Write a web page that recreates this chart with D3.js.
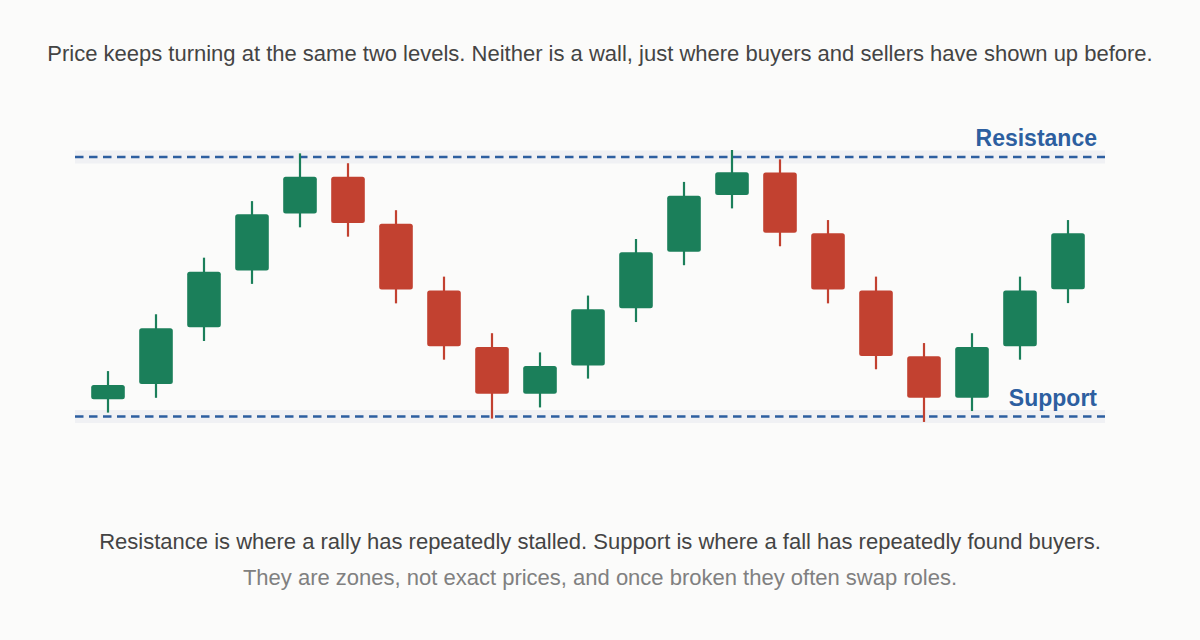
<!DOCTYPE html>
<html>
<head>
<meta charset="utf-8">
<script src="https://cdn.jsdelivr.net/npm/d3@7"></script>
<style>
  html, body { margin: 0; padding: 0; background: #fbfbfa; }
  svg { display: block; font-family: "Liberation Sans", Arial, sans-serif; }
</style>
</head>
<body>
<div id="chart"></div>
<script>
// price levels
var supportLevel = 100;
var resistanceLevel = 200;

// candles: open, high, low, close
var opens  = [106.6, 112.5, 134.4, 156.3, 178.2, 192.4, 174.3, 148.6, 126.8, 108.8, 119.7,
              141.7, 163.5, 185.4, 194.0, 170.6, 148.6, 123.2, 107.2, 127.1, 149.0];
var highs  = [117.5, 139.4, 161.2, 183.0, 201.4, 197.6, 179.5, 153.9, 132.1, 124.7, 146.6,
              168.4, 190.4, 202.7, 199.1, 175.7, 153.9, 128.3, 132.1, 153.9, 175.7];
var lows   = [101.5, 107.2, 129.1, 151.1, 172.9, 169.3, 143.6, 121.9, 99.2, 103.5, 114.6,
              136.4, 158.3, 180.2, 165.6, 143.6, 118.2, 97.9, 102.1, 121.9, 143.7];
var closes = [112.1, 134.0, 155.8, 177.9, 192.4, 174.6, 148.9, 127.1, 108.8, 119.5, 141.3,
              163.3, 185.1, 194.1, 170.8, 148.9, 123.3, 107.2, 126.8, 148.6, 170.6];

var levelLabels = ["Resistance", "Support"];
var titleText = "Price keeps turning at the same two levels. Neither is a wall, just where buyers and sellers have shown up before.";
var noteLine1 = "Resistance is where a rally has repeatedly stalled. Support is where a fall has repeatedly found buyers.";
var noteLine2 = "They are zones, not exact prices, and once broken they often swap roles.";

var W = 1200, H = 640;
var green = "#1b7f5a", red = "#c24130", blue = "#2d5fa0";

var candles = opens.map(function(o, i) {
    return { i: i, open: o, high: highs[i], low: lows[i], close: closes[i] };
});

var svg = d3.select("#chart").append("svg")
    .attr("width", W)
    .attr("height", H);

var x = d3.scaleBand()
    .domain(d3.range(candles.length))
    .range([84, 1092])
    .paddingInner(0.3)
    .paddingOuter(0.15);

var y = d3.scaleLinear()
    .domain([supportLevel, resistanceLevel])
    .range([416.5, 157]);

// title
svg.append("text")
    .attr("x", W / 2)
    .attr("y", 61)
    .attr("text-anchor", "middle")
    .attr("fill", "#444")
    .style("font-size", "22px")
    .text(titleText);

// level bands + dashed lines
var levels = [resistanceLevel, supportLevel];
svg.selectAll(".band")
    .data(levels)
    .enter()
    .append("rect")
    .attr("x", 75)
    .attr("width", 1030)
    .attr("y", function(d) { return y(d) - 6.5; })
    .attr("height", 13)
    .attr("fill", "#f0f1f4");

svg.selectAll(".level")
    .data(levels)
    .enter()
    .append("line")
    .attr("x1", 75)
    .attr("x2", 1105)
    .attr("y1", function(d) { return y(d); })
    .attr("y2", function(d) { return y(d); })
    .attr("stroke", blue)
    .attr("stroke-width", 2.4)
    .attr("stroke-dasharray", "8.5,5.5");

// candles
var g = svg.append("g");
var candle = g.selectAll(".candle")
    .data(candles)
    .enter()
    .append("g");

candle.append("line")
    .attr("x1", function(d) { return x(d.i) + x.bandwidth() / 2; })
    .attr("x2", function(d) { return x(d.i) + x.bandwidth() / 2; })
    .attr("y1", function(d) { return y(d.high); })
    .attr("y2", function(d) { return y(d.low); })
    .attr("stroke", function(d) { return d.close >= d.open ? green : red; })
    .attr("stroke-width", 2.2);

candle.append("rect")
    .attr("x", function(d) { return x(d.i); })
    .attr("width", x.bandwidth())
    .attr("y", function(d) { return y(Math.max(d.open, d.close)); })
    .attr("height", function(d) { return Math.abs(y(d.open) - y(d.close)); })
    .attr("rx", 2.5)
    .attr("fill", function(d) { return d.close >= d.open ? green : red; });

// level labels
svg.selectAll(".lvl-label")
    .data(levels)
    .enter()
    .append("text")
    .attr("x", 1097)
    .attr("y", function(d) { return y(d) - 11; })
    .attr("text-anchor", "end")
    .attr("fill", blue)
    .style("font-size", "23px")
    .style("font-weight", "bold")
    .text(function(d, i) { return levelLabels[i]; });

// notes below
svg.append("text")
    .attr("x", W / 2)
    .attr("y", 549)
    .attr("text-anchor", "middle")
    .attr("fill", "#444")
    .style("font-size", "22px")
    .text(noteLine1);

svg.append("text")
    .attr("x", W / 2)
    .attr("y", 585)
    .attr("text-anchor", "middle")
    .attr("fill", "#808080")
    .style("font-size", "22px")
    .text(noteLine2);
</script>
</body>
</html>
